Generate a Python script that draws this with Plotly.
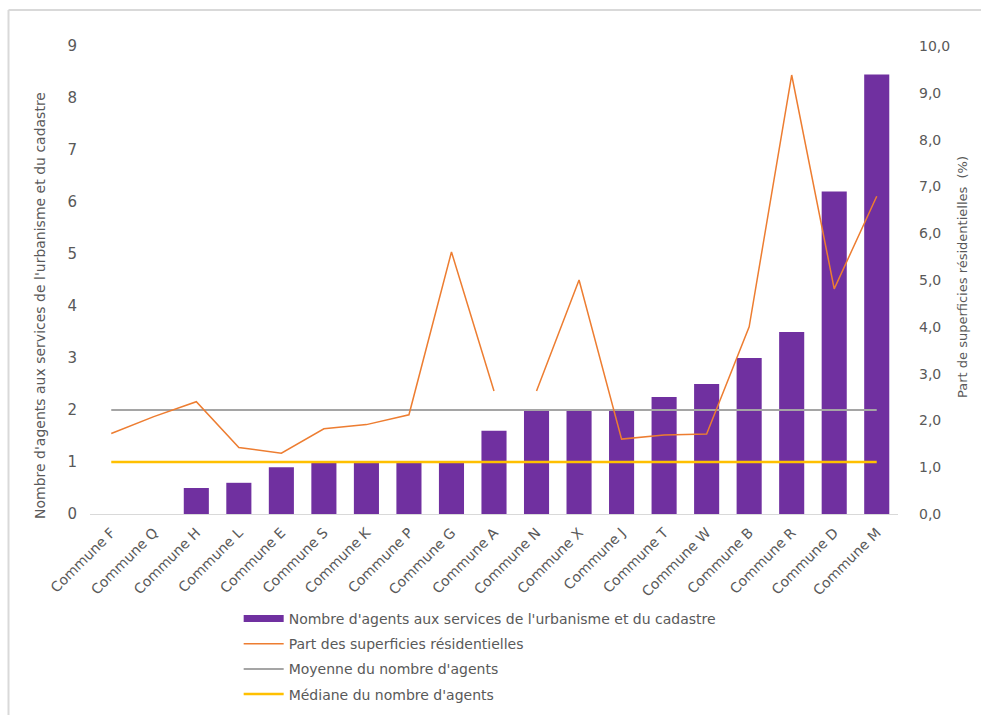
import plotly.graph_objects as go

communes = ["Commune F", "Commune Q", "Commune H", "Commune L", "Commune E", "Commune S",
            "Commune K", "Commune P", "Commune G", "Commune A", "Commune N", "Commune X",
            "Commune J", "Commune T", "Commune W", "Commune B", "Commune R", "Commune D",
            "Commune M"]
agents = [0, 0, 0.5, 0.6, 0.9, 1, 1, 1, 1, 1.6, 2, 2, 2, 2.25, 2.5, 3, 3.5, 6.2, 8.45]
part_resid = [1.72, 2.08, 2.40, 1.42, 1.30, 1.82, 1.91, 2.12, 5.60, 2.63,
              2.63, 5.00, 1.60, 1.69, 1.71, 4.00, 9.38, 4.81, 6.79]
moyenne = [2] * len(communes)
mediane = [1] * len(communes)

name_bar = "Nombre d'agents aux services de l'urbanisme et du cadastre"
name_part = "Part des superficies résidentielles"
name_moy = "Moyenne du nombre d'agents"
name_med = "Médiane du nombre d'agents"

PURPLE = "#7030A0"
ORANGE = "#ED7D31"
GRAY = "#A5A5A5"
YELLOW = "#FFC000"
TXT = "#595959"
FONT = "DejaVu Sans"

fig = go.Figure()
fig.add_trace(go.Bar(x=communes, y=agents, marker_color=PURPLE, name=name_bar,
                     showlegend=False, marker_line_width=0))
# legend entry for bars (wide rectangle like the original)
fig.add_trace(go.Scatter(x=[None], y=[None], mode="lines", name=name_bar,
                         line=dict(color=PURPLE, width=7), legendgroup="a"))
split = communes.index("Commune A") + 1
fig.add_trace(go.Scatter(x=communes[:split], y=part_resid[:split], mode="lines",
                         name=name_part, yaxis="y2", legendgroup="b",
                         line=dict(color=ORANGE, width=1.5)))
fig.add_trace(go.Scatter(x=communes[split:], y=part_resid[split:], mode="lines",
                         name=name_part, yaxis="y2", legendgroup="b", showlegend=False,
                         line=dict(color=ORANGE, width=1.5)))
fig.add_trace(go.Scatter(x=communes, y=moyenne, mode="lines", name=name_moy,
                         legendgroup="c", line=dict(color=GRAY, width=2)))
fig.add_trace(go.Scatter(x=communes, y=mediane, mode="lines", name=name_med,
                         legendgroup="d", line=dict(color=YELLOW, width=2.5)))

fig.update_layout(
    width=981, height=715,
    margin=dict(l=90, r=83, t=46, b=201, autoexpand=False),
    paper_bgcolor="white", plot_bgcolor="white",
    font=dict(family=FONT, color=TXT, size=14),
    separators=", ",
    bargap=0.41,
    xaxis=dict(showgrid=False, showline=True, linecolor="#D9D9D9", linewidth=1,
               tickangle=-45, tickfont=dict(size=14, color=TXT), ticks="",
               ticklabelstandoff=4, automargin=False),
    yaxis=dict(range=[0, 9], dtick=1, showgrid=False, zeroline=False, showline=False,
               tickfont=dict(size=15, color=TXT), ticklabelstandoff=12, automargin=False),
    yaxis2=dict(range=[0, 10], dtick=1, tickformat=".1f", overlaying="y", side="right",
                showgrid=False, zeroline=False, showline=False,
                tickfont=dict(size=14, color=TXT), ticklabelstandoff=20, automargin=False),
    legend=dict(x=0.184, y=-0.19, xanchor="left", yanchor="top",
                font=dict(size=14, color=TXT), traceorder="grouped",
                tracegroupgap=4, itemwidth=40, bgcolor="rgba(0,0,0,0)"),
    annotations=[
        dict(text="Nombre d'agents aux services de l'urbanisme et du cadastre",
             xref="paper", yref="paper", x=-(90 - 40) / 468 * 0 - (90 - 40) / 808,
             y=(514 - 306) / 468,
             textangle=-90, showarrow=False, font=dict(size=14, color=TXT),
             xanchor="center", yanchor="middle"),
        dict(text="Part de superficies résidentielles  (%)",
             xref="paper", yref="paper", x=(962 - 90) / 808, y=(514 - 277) / 468,
             textangle=-90, showarrow=False, font=dict(size=13, color=TXT),
             xanchor="center", yanchor="middle"),
    ],
    shapes=[
        dict(type="line", xref="paper", yref="paper",
             x0=(8.5 - 90) / 808, x1=(981 - 90) / 808,
             y0=(514 - 10) / 468, y1=(514 - 10) / 468,
             line=dict(color="#D9D9D9", width=2)),
        dict(type="line", xref="paper", yref="paper",
             x0=(8.5 - 90) / 808, x1=(8.5 - 90) / 808,
             y0=(514 - 10) / 468, y1=(514 - 715) / 468,
             line=dict(color="#D9D9D9", width=2)),
    ],
)

fig.write_html("out.html")
